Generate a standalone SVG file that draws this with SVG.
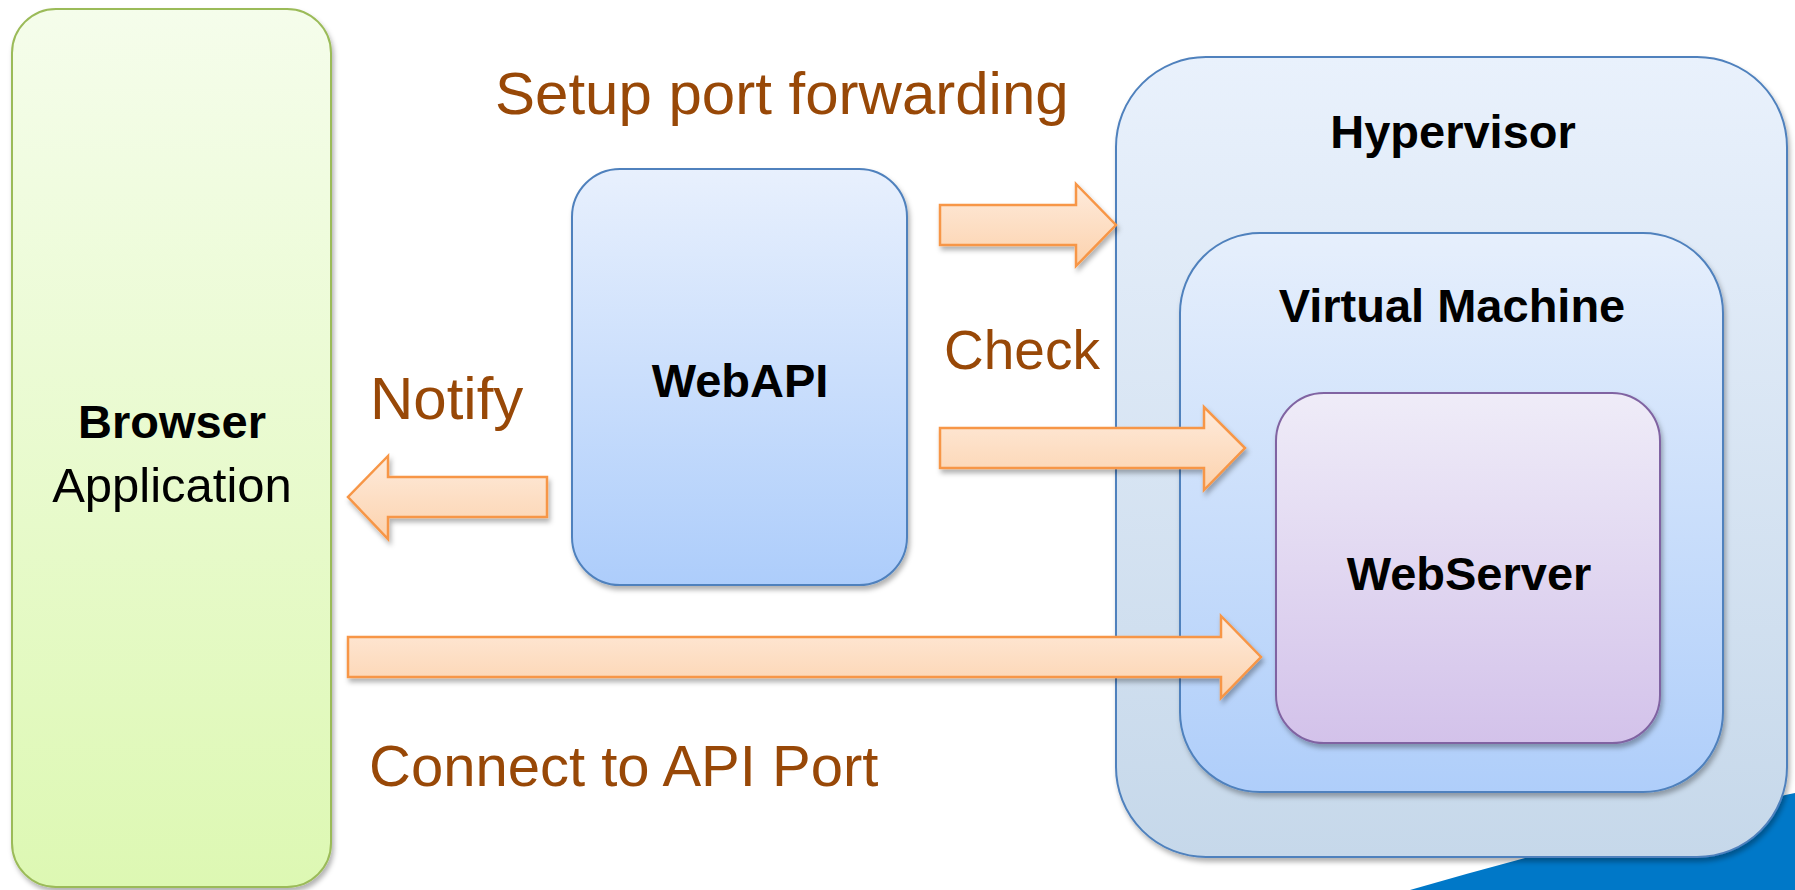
<svg xmlns="http://www.w3.org/2000/svg" width="1795" height="890" viewBox="0 0 1795 890">
  <defs>
    <linearGradient id="gBrowser" x1="0" y1="0" x2="0" y2="1">
      <stop offset="0" stop-color="#F5FDEB"/>
      <stop offset="1" stop-color="#DDF8B3"/>
    </linearGradient>
    <linearGradient id="gWebApi" x1="0" y1="0" x2="0" y2="1">
      <stop offset="0" stop-color="#E8F0FD"/>
      <stop offset="1" stop-color="#ADCDFB"/>
    </linearGradient>
    <linearGradient id="gHyper" x1="0" y1="0" x2="0" y2="1">
      <stop offset="0" stop-color="#E9F1FC"/>
      <stop offset="1" stop-color="#C6D8EA"/>
    </linearGradient>
    <linearGradient id="gVm" x1="0" y1="0" x2="0" y2="1">
      <stop offset="0" stop-color="#E6EFFC"/>
      <stop offset="1" stop-color="#AFCEFA"/>
    </linearGradient>
    <linearGradient id="gWs" x1="0" y1="0" x2="0" y2="1">
      <stop offset="0" stop-color="#EFECF8"/>
      <stop offset="1" stop-color="#D3C2EA"/>
    </linearGradient>
    <linearGradient id="gArrow" x1="0" y1="0" x2="0" y2="1">
      <stop offset="0" stop-color="#FEEBDC"/>
      <stop offset="1" stop-color="#FCD2AD"/>
    </linearGradient>
    <filter id="shadow" x="-10%" y="-10%" width="120%" height="125%">
      <feDropShadow dx="2" dy="4" stdDeviation="2.5" flood-color="#000" flood-opacity="0.3"/>
    </filter>
    <style>
      .box { stroke-width: 2; filter: url(#shadow); }
      .title { font-family: "Liberation Sans", Arial, sans-serif; font-weight: bold; font-size: 47px; fill: #000; text-anchor: middle; }
      .plain { font-family: "Liberation Sans", Arial, sans-serif; font-size: 49px; fill: #000; text-anchor: middle; }
      .label { font-family: "Liberation Sans", Arial, sans-serif; font-size: 60px; fill: #984807; }
      .arrow { fill: url(#gArrow); stroke: #F79646; stroke-width: 2.5; stroke-linejoin: miter; filter: url(#shadow); }
    </style>
  </defs>

  <rect width="1795" height="890" fill="#FFFFFF"/>

  <!-- corner accent band -->
  <path d="M1410 890 Q1600 835 1795 793 L1795 890 Z" fill="#0078C8"/>

  <g id="browser">
    <rect class="box" x="12" y="9" width="319" height="878" rx="44" ry="44" fill="url(#gBrowser)" stroke="#9BBB59"/>
    <text class="title" x="172" y="438">Browser</text>
    <text class="plain" x="172" y="502">Application</text>
  </g>

  <g id="webapi">
    <rect class="box" x="572" y="169" width="335" height="416" rx="48" ry="48" fill="url(#gWebApi)" stroke="#4F81BD"/>
    <text class="title" x="740" y="397">WebAPI</text>
  </g>

  <g id="hypervisor">
    <rect class="box" x="1116" y="57" width="671" height="800" rx="90" ry="90" fill="url(#gHyper)" stroke="#4F81BD"/>
    <text class="title" x="1453" y="148">Hypervisor</text>
  </g>

  <g id="virtual-machine">
    <rect class="box" x="1180" y="233" width="543" height="559" rx="80" ry="80" fill="url(#gVm)" stroke="#4F81BD"/>
    <text class="title" x="1452" y="322">Virtual Machine</text>
  </g>

  <g id="webserver">
    <rect class="box" x="1276" y="393" width="384" height="350" rx="48" ry="48" fill="url(#gWs)" stroke="#8064A2"/>
    <text class="title" x="1469" y="590">WebServer</text>
  </g>

  <g id="connectors">
    <!-- WebAPI -> Hypervisor -->
    <path class="arrow" d="M940 205 L1076 205 L1076 184 L1116 225 L1076 266 L1076 245 L940 245 Z"/>
    <text class="label" x="495" y="114">Setup port forwarding</text>
    <!-- WebAPI -> WebServer -->
    <path class="arrow" d="M940 428 L1204 428 L1204 407 L1245 448 L1204 490 L1204 468 L940 468 Z"/>
    <text class="label" x="944" y="369" style="font-size:55px">Check</text>
    <!-- WebAPI -> Browser -->
    <path class="arrow" d="M547 477 L388 477 L388 456 L348 497 L388 539 L388 517 L547 517 Z"/>
    <text class="label" x="370" y="419">Notify</text>
    <!-- Browser -> WebServer -->
    <path class="arrow" d="M348 637 L1221 637 L1221 616 L1261 657 L1221 698 L1221 677 L348 677 Z"/>
    <text class="label" x="369" y="786" style="font-size:58px">Connect to API Port</text>
  </g>
</svg>
